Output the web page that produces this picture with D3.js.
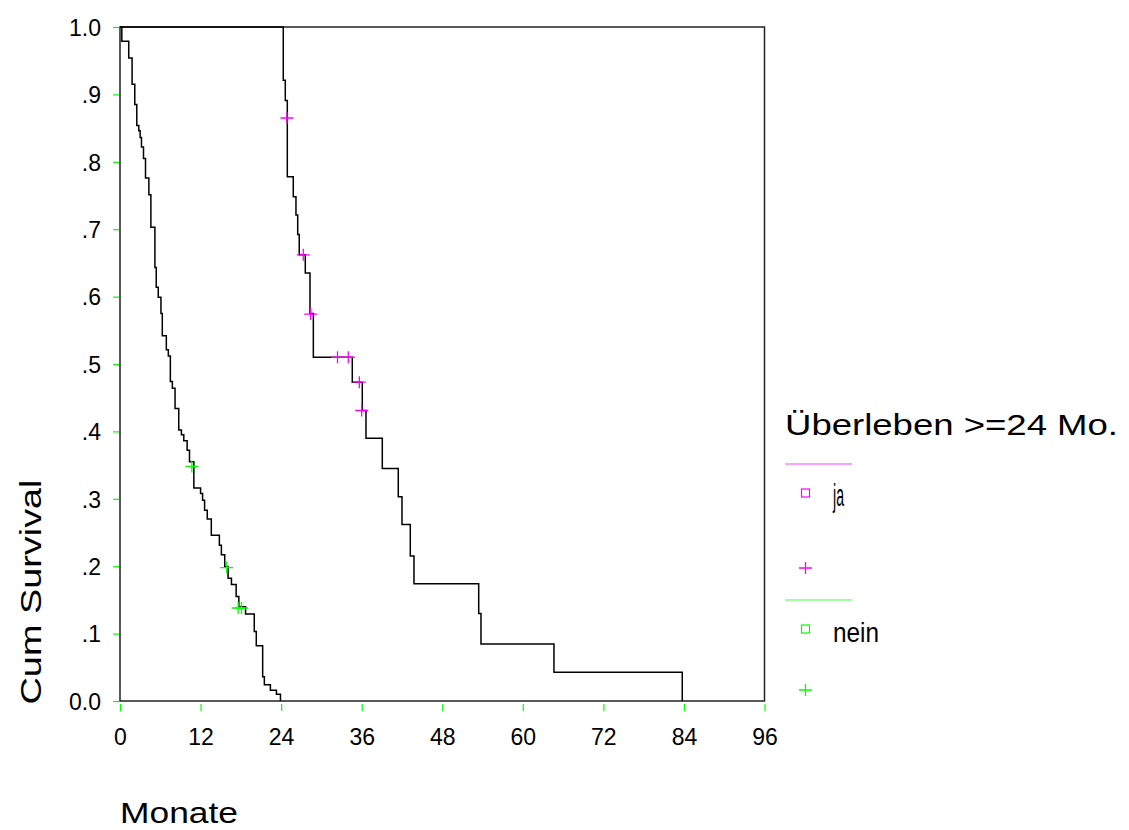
<!DOCTYPE html>
<html>
<head>
<meta charset="utf-8">
<script src="https://cdn.jsdelivr.net/npm/d3@7"></script>
<style>
  body { margin: 0; background: #fff; }
  text { font-family: "Liberation Sans", Arial, sans-serif; fill: #000; }
</style>
</head>
<body>
<div id="chart"></div>
<script>
// Kaplan-Meier steps: time (months) where survival drops, and survival after the drop
const neinTimes = [0.27, 1.3, 1.8, 2.2, 2.5, 2.8, 3.0, 3.2, 3.5, 3.8, 4.3, 4.6, 5.2, 5.4, 5.7, 6.1, 6.3, 6.9, 7.2, 7.5,
  7.8, 8.2, 8.75, 9.15, 9.5, 10.0, 10.35, 11.0, 12.0, 12.3, 12.6, 13.0, 13.6, 14.8, 15.1, 15.6, 16.1, 16.6, 17.3, 17.7,
  18.7, 20.0, 20.3, 21.25, 21.5, 22.4, 23.3, 23.9];
const neinSurv = [0.979, 0.954, 0.915, 0.885, 0.854, 0.846, 0.836, 0.822, 0.805, 0.776, 0.751, 0.703, 0.643, 0.614, 0.599, 0.575, 0.542, 0.521, 0.512, 0.474,
  0.464, 0.434, 0.402, 0.395, 0.386, 0.372, 0.355, 0.316, 0.308, 0.298, 0.283, 0.270, 0.246, 0.231, 0.217, 0.199, 0.182, 0.173, 0.155, 0.140,
  0.129, 0.103, 0.082, 0.036, 0.024, 0.016, 0.010, 0];
const neinCensT = [10.7, 15.9, 17.6, 18.1];
const neinCensS = [0.348, 0.198, 0.138, 0.138];

const jaTimes = [24.32, 24.62, 24.92, 25.81, 26.21, 26.47, 26.7, 27.6, 28.3, 28.8, 34.6, 36.09, 36.64, 39.07, 41.45, 42.0, 43.24, 43.79, 53.43, 53.77, 64.64, 83.75];
const jaSurv = [0.921, 0.891, 0.778, 0.748, 0.721, 0.692, 0.662, 0.635, 0.575, 0.510, 0.473, 0.431, 0.390, 0.345, 0.303, 0.262, 0.215, 0.174, 0.130, 0.0846, 0.0426, 0];
const jaCensT = [24.87, 27.3, 28.4, 32.4, 34.0, 35.65, 36.0];
const jaCensS = [0.865, 0.662, 0.574, 0.510, 0.510, 0.473, 0.431];

const xTicks = [0, 12, 24, 36, 48, 60, 72, 84, 96];
const yTicks = [0, 0.1, 0.2, 0.3, 0.4, 0.5, 0.6, 0.7, 0.8, 0.9, 1.0];
const yTickLabels = ["0.0", ".1", ".2", ".3", ".4", ".5", ".6", ".7", ".8", ".9", "1.0"];
const legendTitle = "Überleben >=24 Mo.";
const groups = ["ja", "nein"];

const width = 1129;
const height = 830;
const magenta = "#ff00ff";
const green = "#00ff00";

const svg = d3
  .select("#chart")
  .append("svg")
  .attr("width", width)
  .attr("height", height);

const x = d3.scaleLinear().domain([0, 96]).range([120, 764.5]);
const y = d3.scaleLinear().domain([0, 1]).range([701, 27]);

// frame around the plot
svg
  .append("rect")
  .attr("x", x(0))
  .attr("y", y(1))
  .attr("width", x(96) - x(0))
  .attr("height", y(0) - y(1))
  .attr("fill", "none")
  .attr("stroke", "#222")
  .attr("stroke-width", 1.5);

// x axis, green ticks a little below the axis line
const xAxis = svg
  .append("g")
  .attr("transform", `translate(0,${y(0)})`)
  .call(d3.axisBottom(x).tickValues(xTicks).tickSize(10).tickFormat(d3.format("d")));
xAxis.select(".domain").remove();
xAxis.selectAll("line").attr("y1", 3).attr("stroke", green).attr("stroke-width", 1.2);
xAxis
  .selectAll("text")
  .attr("y", 44)
  .attr("dy", 0)
  .style("font-size", "23px")
  .style("font-family", "Liberation Sans, Arial, sans-serif")
  .attr("fill", "#000");

// y axis
const yAxis = svg
  .append("g")
  .attr("transform", `translate(${x(0)},0)`)
  .call(
    d3
      .axisLeft(y)
      .tickValues(yTicks)
      .tickSize(7)
      .tickFormat((d, i) => yTickLabels[i])
  );
yAxis.select(".domain").remove();
yAxis.selectAll("line").attr("x1", -1).attr("stroke", green).attr("stroke-width", 1.2);
yAxis
  .selectAll("text")
  .attr("x", -19)
  .attr("dy", "0.36em")
  .style("font-size", "23px")
  .style("font-family", "Liberation Sans, Arial, sans-serif")
  .attr("fill", "#000");

// axis titles
svg
  .append("text")
  .attr("transform", "translate(41,592) rotate(-90)")
  .attr("text-anchor", "middle")
  .attr("textLength", 225)
  .attr("lengthAdjust", "spacingAndGlyphs")
  .style("font-size", "30px")
  .text("Cum Survival");

svg
  .append("text")
  .attr("x", 120)
  .attr("y", 823)
  .attr("textLength", 118)
  .attr("lengthAdjust", "spacingAndGlyphs")
  .style("font-size", "29px")
  .text("Monate");

// survival step curves
const line = d3
  .line()
  .x((d) => x(d[0]))
  .y((d) => y(d[1]))
  .curve(d3.curveStepAfter);

function steps(times, surv) {
  return [[0, 1]].concat(times.map((t, i) => [t, surv[i]]));
}

svg
  .append("g")
  .selectAll("path")
  .data([steps(jaTimes, jaSurv), steps(neinTimes, neinSurv)])
  .enter()
  .append("path")
  .attr("d", line)
  .attr("fill", "none")
  .attr("stroke", "#000")
  .attr("stroke-width", 1.5);

// censor marks
function crosses(times, surv, color) {
  const g = svg.append("g").attr("stroke", color).attr("stroke-width", 1.3);
  const pts = times.map((t, i) => [t, surv[i]]);
  g.selectAll("path")
    .data(pts)
    .enter()
    .append("path")
    .attr("d", (d) => `M${x(d[0]) - 6.5},${y(d[1])}h13M${x(d[0])},${y(d[1]) - 6}v12`);
}
crosses(jaCensT, jaCensS, magenta);
crosses(neinCensT, neinCensS, green);

// legend
const legend = svg.append("g");
legend
  .append("text")
  .attr("x", 785)
  .attr("y", 435)
  .attr("textLength", 333)
  .attr("lengthAdjust", "spacingAndGlyphs")
  .style("font-size", "30px")
  .text(legendTitle);

const legendColors = [magenta, green];
const legendLines = ["#ff80ff", "#80ff80"];
const labelWidths = [11, 46];
const crossOffsets = [104, 90];
groups.forEach((g, i) => {
  const top = 464 + i * 136;
  legend
    .append("line")
    .attr("x1", 785)
    .attr("x2", 852)
    .attr("y1", top)
    .attr("y2", top)
    .attr("stroke", legendLines[i])
    .attr("stroke-width", 1.5);
  legend
    .append("rect")
    .attr("x", 801.5)
    .attr("y", top + 25)
    .attr("width", 8)
    .attr("height", 8)
    .attr("fill", "none")
    .attr("stroke", legendColors[i])
    .attr("stroke-width", 1.2);
  legend
    .append("text")
    .attr("x", 833)
    .attr("y", top + 42)
    .attr("textLength", labelWidths[i])
    .attr("lengthAdjust", "spacingAndGlyphs")
    .style("font-size", i === 0 ? "31px" : "27px")
    .text(g);
  legend
    .append("path")
    .attr("d", `M799,${top + crossOffsets[i]}h13M805.5,${top + crossOffsets[i] - 6}v12`)
    .attr("stroke", legendColors[i])
    .attr("stroke-width", 1.3);
});
</script>
</body>
</html>
